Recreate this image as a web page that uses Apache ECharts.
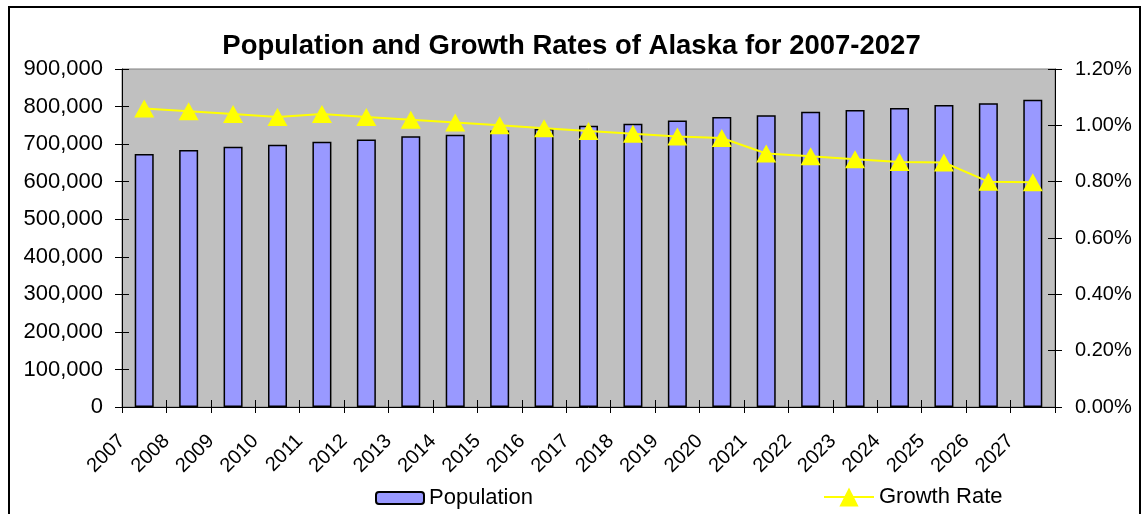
<!DOCTYPE html>
<html>
<head>
<meta charset="utf-8">
<script src="https://cdn.jsdelivr.net/npm/echarts@6/dist/echarts.min.js"></script>
<style>
  html, body { margin: 0; padding: 0; background: #ffffff; }
  #chart { width: 1143px; height: 514px; }
</style>
</head>
<body>
<div id="chart"></div>
<script>
var years = ['2007','2008','2009','2010','2011','2012','2013','2014','2015','2016','2017','2018','2019','2020','2021','2022','2023','2024','2025','2026','2027'];
var population = [674000, 684000, 693000, 698000, 706000, 712000, 721000, 725000, 736000, 740000, 749000, 754000, 763000, 772000, 777000, 786000, 791000, 796000, 804000, 809000, 818000];
var growthRate = [0.0106, 0.0105, 0.0104, 0.0103, 0.0104, 0.0103, 0.0102, 0.0101, 0.0100, 0.0099, 0.0098, 0.0097, 0.0096, 0.00955, 0.0090, 0.0089, 0.0088, 0.0087, 0.00868, 0.0080, 0.00798];
var leftTicks = { min: 0, max: 900000, interval: 100000 };
var rightTicks = { min: 0, max: 0.012, interval: 0.002 };

var FONT = "'Liberation Sans', Arial, sans-serif";
var labelYears = years.concat(['']);

function fmtThousands(v) {
  return v === 0 ? '0' : String(v).replace(/\B(?=(\d{3})+(?!\d))/g, ',');
}
function fmtPct(v) { return (v * 100).toFixed(2) + '%'; }

var chart = echarts.init(document.getElementById('chart'), null, { renderer: 'canvas' });
chart.setOption({
  animation: false,
  backgroundColor: '#ffffff',
  textStyle: { fontFamily: FONT },
  graphic: [{
    type: 'rect',
    shape: { x: 9, y: 7, width: 1131, height: 540 },
    style: { fill: 'none', stroke: '#000000', lineWidth: 2 },
    silent: true, z: 100
  }],
  title: {
    text: 'Population and Growth Rates of Alaska for 2007-2027',
    left: 'center', top: 27,
    textStyle: { fontFamily: FONT, fontSize: 27.5, fontWeight: 'bold', color: '#000000' }
  },
  legend: [{
    data: ['Population'],
    left: 375, top: 487, padding: 0,
    itemWidth: 48, itemHeight: 12,
    textStyle: { fontFamily: FONT, fontSize: 22, color: '#000000' }
  }, {
    data: ['Growth Rate'],
    left: 823, top: 486, padding: 0,
    itemWidth: 50, itemHeight: 24,
    textStyle: { fontFamily: FONT, fontSize: 22, color: '#000000' }
  }],
  grid: {
    left: 122, right: 88, top: 69, bottom: 107,
    show: true, backgroundColor: '#C0C0C0', borderColor: '#808080', borderWidth: 1
  },
  xAxis: [{
    type: 'category', data: years, boundaryGap: true,
    axisLine: { show: true, lineStyle: { color: '#000000', width: 1 } },
    axisTick: { show: true, length: 6, lineStyle: { color: '#000000' } },
    axisLabel: { show: false },
    splitLine: { show: false }
  }, {
    type: 'category', data: labelYears, boundaryGap: false, position: 'bottom',
    axisLine: { show: false },
    axisTick: { show: true, inside: true, length: 7, interval: 0, lineStyle: { color: '#000000' } },
    axisLabel: { show: true, interval: 0, rotate: 45, margin: 31, fontFamily: FONT, fontSize: 20, color: '#000000' },
    splitLine: { show: false }
  }],
  yAxis: [{
    type: 'value', position: 'left', min: leftTicks.min, max: leftTicks.max, interval: leftTicks.interval,
    axisLine: { show: true, lineStyle: { color: '#000000', width: 1 } },
    axisTick: { show: true, length: 7, lineStyle: { color: '#000000' } },
    axisLabel: { formatter: fmtThousands, margin: 19, fontFamily: FONT, fontSize: 22, color: '#000000' },
    splitLine: { show: false }
  }, {
    type: 'value', position: 'right', min: rightTicks.min, max: rightTicks.max, interval: rightTicks.interval,
    axisLine: { show: true, lineStyle: { color: '#000000', width: 1 } },
    axisTick: { show: true, length: 7, lineStyle: { color: '#000000' } },
    axisLabel: { formatter: fmtPct, margin: 20, fontFamily: FONT, fontSize: 20, color: '#000000' },
    splitLine: { show: false }
  }, {
    type: 'value', position: 'left', min: leftTicks.min, max: leftTicks.max, interval: leftTicks.interval,
    axisLine: { show: false },
    axisTick: { show: true, inside: true, length: 7, lineStyle: { color: '#000000' } },
    axisLabel: { show: false }, splitLine: { show: false }
  }, {
    type: 'value', position: 'right', min: rightTicks.min, max: rightTicks.max, interval: rightTicks.interval,
    axisLine: { show: false },
    axisTick: { show: true, inside: true, length: 7, lineStyle: { color: '#000000' } },
    axisLabel: { show: false }, splitLine: { show: false }
  }],
  series: [{
    name: 'Population', type: 'bar', xAxisIndex: 0, yAxisIndex: 0,
    data: population, barWidth: 19,
    itemStyle: { color: '#9999FF', borderColor: '#000000', borderWidth: 1.5 },
    z: 2
  }, {
    name: 'Growth Rate', type: 'line', xAxisIndex: 0, yAxisIndex: 1,
    data: growthRate,
    symbol: 'triangle', symbolSize: [20, 18],
    lineStyle: { color: '#FFFF00', width: 2 },
    itemStyle: { color: '#FFFF00', borderWidth: 0 },
    z: 3
  }]
});
</script>
</body>
</html>
